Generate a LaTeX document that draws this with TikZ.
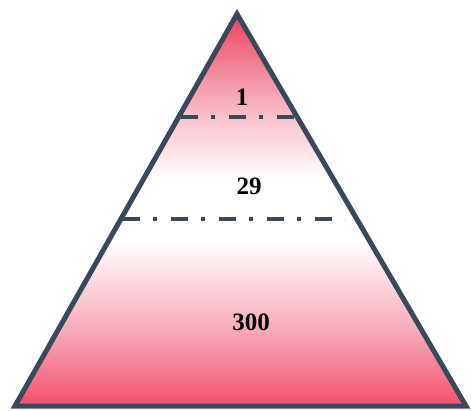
\documentclass[tikz,border=0pt]{standalone}
\usepackage{fontspec}
\setmainfont{Liberation Serif}
\definecolor{edgec}{RGB}{58,72,92}
\definecolor{pinkbot}{RGB}{244,80,106}
\definecolor{pinkmid}{RGB}{247,170,186}
\definecolor{pinkup}{RGB}{248,192,203}
\definecolor{pinktop}{RGB}{238,66,94}
\pgfdeclareverticalshading{pyr}{100bp}{color(0bp)=(pinkbot); color(25bp)=(pinkbot); color(34.7bp)=(pinkmid); color(46bp)=(white); color(54bp)=(white); color(62bp)=(pinkup); color(75bp)=(pinktop); color(100bp)=(pinktop)}
\tikzset{
  sep/.style={draw=edgec, line width=4pt, dash pattern=on 17pt off 13pt on 4pt off 14pt},
  lbl/.style={font=\fontsize{25}{25}\selectfont\bfseries, text=black},
}
\begin{document}
\begin{tikzpicture}[x=1pt,y=-1pt]
\useasboundingbox (0,0) rectangle (471,411);
\coordinate (A) at (237,14);
\coordinate (L) at (15,406);
\coordinate (R) at (466,406);
\shade[shading=pyr] (A) -- (L) -- (R) -- cycle;
\coordinate (s1a) at (181,117);
\coordinate (s1b) at (298,117);
\coordinate (s2a) at (123,219);
\coordinate (s2b) at (345,219);
\draw[sep] (s1a) -- (s1b);
\draw[sep] (s2a) -- (s2b);
\draw[edgec, line width=5pt, line join=miter] (A) -- (L) -- (R) -- cycle;
\node[lbl] (n1) at (242,97) {1};
\node[lbl] (n29) at (249,186) {29};
\node[lbl] (n300) at (251,322) {300};
\end{tikzpicture}
\end{document}
